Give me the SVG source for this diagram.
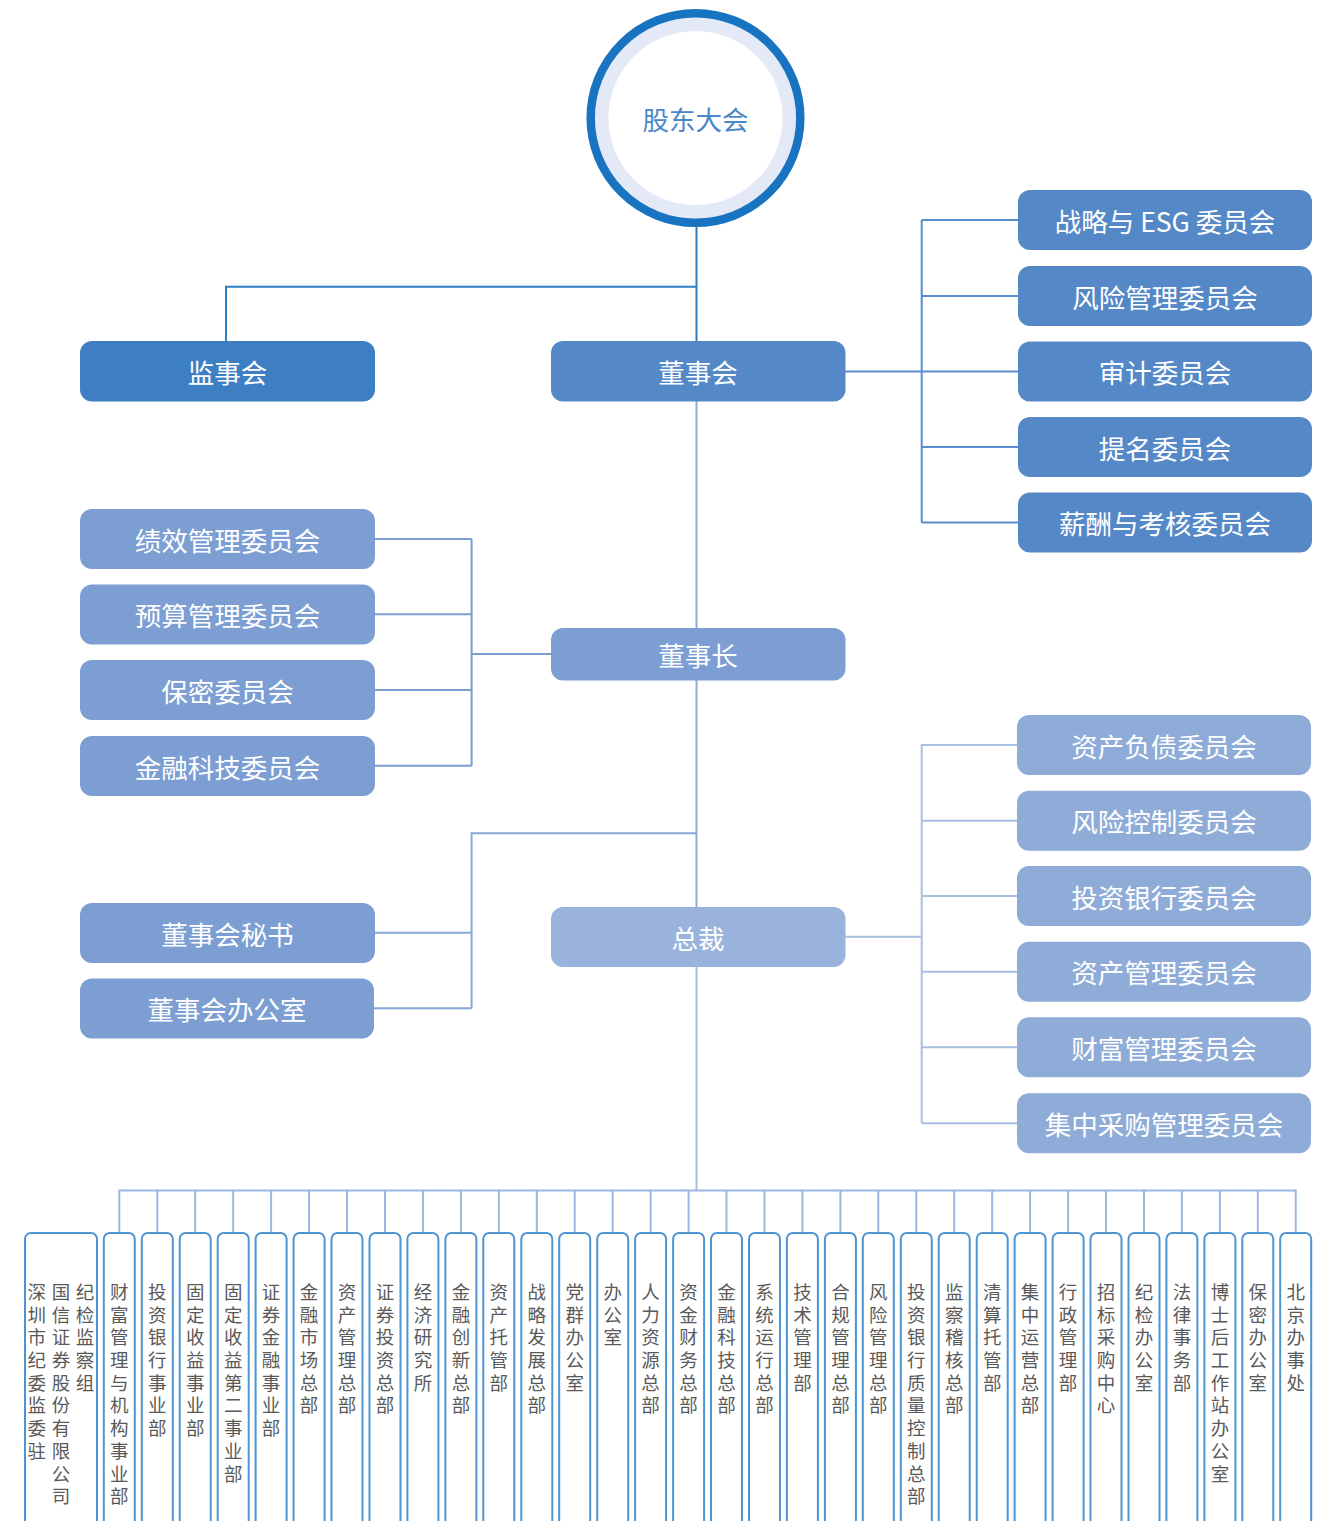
<svg xmlns="http://www.w3.org/2000/svg" width="1335" height="1521" viewBox="0 0 1335 1521">
<style>
text{font-family:"Noto Sans CJK SC","Noto Sans",sans-serif}
.t{font-size:26.5px;fill:#ffffff;text-anchor:middle;dominant-baseline:central}
.v{font-size:18.5px;fill:#5a5a5a;writing-mode:vertical-rl;letter-spacing:4.2px}
.c1{fill:#3e7ec2}
.c2{fill:#5588c7}
.c3{fill:#7c9ed3}
.c4{fill:#9ab3dd}
.c5{fill:#8facd8}
.dept{fill:#ffffff;stroke:#4d94d3;stroke-width:2}
.ln{fill:none;stroke-width:2}
</style>
<rect width="1335" height="1521" fill="#ffffff"/>
<g id="connectors">
<path class="ln" stroke="#2f7fc5" d="M696.5 226V341M696.5 286.7H226V341"/>
<path class="ln" stroke="#5b8dcc" d="M845 371.5H921.7M921.7 220V522.5M921.7 220H1018M921.7 296H1018M921.7 371.5H1018M921.7 447H1018M921.7 522.5H1018"/>
<path class="ln" stroke="#8fabd9" d="M696.5 401V628M696.5 680V907"/>
<path class="ln" stroke="#7b9dd2" d="M551 654H471.6M471.6 539V766M373 539H471.6M373 614.3H471.6M373 690H471.6M373 765.7H471.6"/>
<path class="ln" stroke="#87a5d6" d="M696.5 833.3H471.6V1008.3M373 932.7H471.6M373 1008.3H471.6"/>
<path class="ln" stroke="#a8bfe3" d="M845 936.7H921.7M921.7 744.3V1123.3M921.7 745H1017M921.7 820.7H1017M921.7 896H1017M921.7 971.7H1017M921.7 1047.3H1017M921.7 1123.3H1017"/>
<path class="ln" stroke="#a5bbe1" d="M696.5 967V1190"/>
<path class="ln" stroke="#9db5e0" d="M119.3 1233V1190.5H1295.7V1233M157.3 1190.5V1233M195.2 1190.5V1233M233.2 1190.5V1233M271.1 1190.5V1233M309.1 1190.5V1233M347 1190.5V1233M385 1190.5V1233M422.9 1190.5V1233M460.9 1190.5V1233M498.8 1190.5V1233M536.8 1190.5V1233M574.7 1190.5V1233M612.7 1190.5V1233M650.6 1190.5V1233M688.6 1190.5V1233M726.5 1190.5V1233M764.5 1190.5V1233M802.4 1190.5V1233M840.4 1190.5V1233M878.3 1190.5V1233M916.3 1190.5V1233M954.2 1190.5V1233M992.2 1190.5V1233M1030.1 1190.5V1233M1068.1 1190.5V1233M1106 1190.5V1233M1144 1190.5V1233M1181.9 1190.5V1233M1219.9 1190.5V1233M1257.8 1190.5V1233"/>
</g>
<g id="n-gudong">
<circle cx="695.5" cy="118" r="93.8" fill="#ffffff" stroke="#e3e9f6" stroke-width="13.5"/>
<circle cx="695.5" cy="118" r="104.8" fill="none" stroke="#1874c0" stroke-width="8.5"/>
<text x="695.5" y="118" style="font-size:26.5px;fill:#4a86c8;text-anchor:middle;dominant-baseline:central">股东大会</text>
</g>
<g id="n-jianshihui"><rect class="c1" x="80" y="341" width="295" height="60.5" rx="12"/><text class="t" x="227.5" y="371.5">监事会</text></g>
<g id="n-dongshihui"><rect class="c2" x="551" y="341" width="294.5" height="60.5" rx="12"/><text class="t" x="698" y="371.5">董事会</text></g>
<g id="n-esg"><rect class="c2" x="1018" y="190" width="294" height="60" rx="12"/><text class="t" x="1165" y="220">战略与 ESG 委员会</text></g>
<g id="n-fxgl"><rect class="c2" x="1018" y="266" width="294" height="60" rx="12"/><text class="t" x="1165" y="296">风险管理委员会</text></g>
<g id="n-sj"><rect class="c2" x="1018" y="341.5" width="294" height="60" rx="12"/><text class="t" x="1165" y="371.5">审计委员会</text></g>
<g id="n-tm"><rect class="c2" x="1018" y="417" width="294" height="60" rx="12"/><text class="t" x="1165" y="447">提名委员会</text></g>
<g id="n-xc"><rect class="c2" x="1018" y="492.5" width="294" height="60" rx="12"/><text class="t" x="1165" y="522.5">薪酬与考核委员会</text></g>
<g id="n-dongshizhang"><rect class="c3" x="551" y="628" width="294.5" height="52.5" rx="12"/><text class="t" x="698" y="654">董事长</text></g>
<g id="n-jx"><rect class="c3" x="80" y="509" width="295" height="60" rx="12"/><text class="t" x="227.5" y="539">绩效管理委员会</text></g>
<g id="n-ys"><rect class="c3" x="80" y="584.5" width="295" height="60" rx="12"/><text class="t" x="227.5" y="614.5">预算管理委员会</text></g>
<g id="n-bm"><rect class="c3" x="80" y="660" width="295" height="60" rx="12"/><text class="t" x="227.5" y="690">保密委员会</text></g>
<g id="n-jrkj"><rect class="c3" x="80" y="736" width="295" height="60" rx="12"/><text class="t" x="227.5" y="766">金融科技委员会</text></g>
<g id="n-ms"><rect class="c3" x="80" y="903" width="295" height="60" rx="12"/><text class="t" x="227.5" y="933">董事会秘书</text></g>
<g id="n-bgs"><rect class="c3" x="80" y="978.5" width="294" height="60" rx="12"/><text class="t" x="227" y="1008.5">董事会办公室</text></g>
<g id="n-zongcai"><rect class="c4" x="551" y="907" width="294.5" height="60" rx="12"/><text class="t" x="698" y="937">总裁</text></g>
<g id="n-zcfz"><rect class="c5" x="1017" y="715" width="294" height="60" rx="12"/><text class="t" x="1164" y="745">资产负债委员会</text></g>
<g id="n-fxkz"><rect class="c5" x="1017" y="790.7" width="294" height="60" rx="12"/><text class="t" x="1164" y="820.7">风险控制委员会</text></g>
<g id="n-tzyh"><rect class="c5" x="1017" y="866" width="294" height="60" rx="12"/><text class="t" x="1164" y="896">投资银行委员会</text></g>
<g id="n-zcgl"><rect class="c5" x="1017" y="941.7" width="294" height="60" rx="12"/><text class="t" x="1164" y="971.7">资产管理委员会</text></g>
<g id="n-cfgl"><rect class="c5" x="1017" y="1017.3" width="294" height="60" rx="12"/><text class="t" x="1164" y="1047.3">财富管理委员会</text></g>
<g id="n-jzcg"><rect class="c5" x="1017" y="1093.3" width="294" height="60" rx="12"/><text class="t" x="1164" y="1123.3">集中采购管理委员会</text></g>
<g id="d00"><rect class="dept" x="25" y="1233" width="72" height="310" rx="6"/>
<text class="v" x="36.7" y="1282.7">深圳市纪委监委驻</text>
<text class="v" x="61" y="1282.7">国信证券股份有限公司</text>
<text class="v" x="85" y="1282.7">纪检监察组</text></g>
<g id="d01"><rect class="dept" x="103.8" y="1233" width="31" height="310" rx="6"/><text class="v" x="119.3" y="1282.7">财富管理与机构事业部</text></g>
<g id="d02"><rect class="dept" x="141.8" y="1233" width="31" height="310" rx="6"/><text class="v" x="157.3" y="1282.7">投资银行事业部</text></g>
<g id="d03"><rect class="dept" x="179.7" y="1233" width="31" height="310" rx="6"/><text class="v" x="195.2" y="1282.7">固定收益事业部</text></g>
<g id="d04"><rect class="dept" x="217.7" y="1233" width="31" height="310" rx="6"/><text class="v" x="233.2" y="1282.7">固定收益第二事业部</text></g>
<g id="d05"><rect class="dept" x="255.6" y="1233" width="31" height="310" rx="6"/><text class="v" x="271.1" y="1282.7">证券金融事业部</text></g>
<g id="d06"><rect class="dept" x="293.6" y="1233" width="31" height="310" rx="6"/><text class="v" x="309.1" y="1282.7">金融市场总部</text></g>
<g id="d07"><rect class="dept" x="331.5" y="1233" width="31" height="310" rx="6"/><text class="v" x="347" y="1282.7">资产管理总部</text></g>
<g id="d08"><rect class="dept" x="369.5" y="1233" width="31" height="310" rx="6"/><text class="v" x="385" y="1282.7">证券投资总部</text></g>
<g id="d09"><rect class="dept" x="407.4" y="1233" width="31" height="310" rx="6"/><text class="v" x="422.9" y="1282.7">经济研究所</text></g>
<g id="d10"><rect class="dept" x="445.4" y="1233" width="31" height="310" rx="6"/><text class="v" x="460.9" y="1282.7">金融创新总部</text></g>
<g id="d11"><rect class="dept" x="483.3" y="1233" width="31" height="310" rx="6"/><text class="v" x="498.8" y="1282.7">资产托管部</text></g>
<g id="d12"><rect class="dept" x="521.3" y="1233" width="31" height="310" rx="6"/><text class="v" x="536.8" y="1282.7">战略发展总部</text></g>
<g id="d13"><rect class="dept" x="559.2" y="1233" width="31" height="310" rx="6"/><text class="v" x="574.7" y="1282.7">党群办公室</text></g>
<g id="d14"><rect class="dept" x="597.2" y="1233" width="31" height="310" rx="6"/><text class="v" x="612.7" y="1282.7">办公室</text></g>
<g id="d15"><rect class="dept" x="635.1" y="1233" width="31" height="310" rx="6"/><text class="v" x="650.6" y="1282.7">人力资源总部</text></g>
<g id="d16"><rect class="dept" x="673.1" y="1233" width="31" height="310" rx="6"/><text class="v" x="688.6" y="1282.7">资金财务总部</text></g>
<g id="d17"><rect class="dept" x="711" y="1233" width="31" height="310" rx="6"/><text class="v" x="726.5" y="1282.7">金融科技总部</text></g>
<g id="d18"><rect class="dept" x="749" y="1233" width="31" height="310" rx="6"/><text class="v" x="764.5" y="1282.7">系统运行总部</text></g>
<g id="d19"><rect class="dept" x="786.9" y="1233" width="31" height="310" rx="6"/><text class="v" x="802.4" y="1282.7">技术管理部</text></g>
<g id="d20"><rect class="dept" x="824.9" y="1233" width="31" height="310" rx="6"/><text class="v" x="840.4" y="1282.7">合规管理总部</text></g>
<g id="d21"><rect class="dept" x="862.8" y="1233" width="31" height="310" rx="6"/><text class="v" x="878.3" y="1282.7">风险管理总部</text></g>
<g id="d22"><rect class="dept" x="900.8" y="1233" width="31" height="310" rx="6"/><text class="v" x="916.3" y="1282.7">投资银行质量控制总部</text></g>
<g id="d23"><rect class="dept" x="938.7" y="1233" width="31" height="310" rx="6"/><text class="v" x="954.2" y="1282.7">监察稽核总部</text></g>
<g id="d24"><rect class="dept" x="976.7" y="1233" width="31" height="310" rx="6"/><text class="v" x="992.2" y="1282.7">清算托管部</text></g>
<g id="d25"><rect class="dept" x="1014.6" y="1233" width="31" height="310" rx="6"/><text class="v" x="1030.1" y="1282.7">集中运营总部</text></g>
<g id="d26"><rect class="dept" x="1052.6" y="1233" width="31" height="310" rx="6"/><text class="v" x="1068.1" y="1282.7">行政管理部</text></g>
<g id="d27"><rect class="dept" x="1090.5" y="1233" width="31" height="310" rx="6"/><text class="v" x="1106" y="1282.7">招标采购中心</text></g>
<g id="d28"><rect class="dept" x="1128.5" y="1233" width="31" height="310" rx="6"/><text class="v" x="1144" y="1282.7">纪检办公室</text></g>
<g id="d29"><rect class="dept" x="1166.4" y="1233" width="31" height="310" rx="6"/><text class="v" x="1181.9" y="1282.7">法律事务部</text></g>
<g id="d30"><rect class="dept" x="1204.4" y="1233" width="31" height="310" rx="6"/><text class="v" x="1219.9" y="1282.7">博士后工作站办公室</text></g>
<g id="d31"><rect class="dept" x="1242.3" y="1233" width="31" height="310" rx="6"/><text class="v" x="1257.8" y="1282.7">保密办公室</text></g>
<g id="d32"><rect class="dept" x="1280.2" y="1233" width="31" height="310" rx="6"/><text class="v" x="1295.7" y="1282.7">北京办事处</text></g>
</svg>
